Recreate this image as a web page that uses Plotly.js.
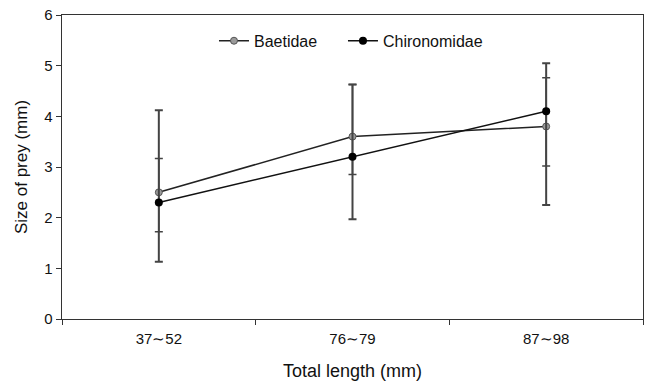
<!DOCTYPE html>
<html>
<head>
<meta charset="utf-8">
<script src="https://cdn.plot.ly/plotly-3.0.1.min.js"></script>
<style>html,body{margin:0;padding:0;background:#fff;}#chart{width:651px;height:385px;}</style>
</head>
<body>
<div id="chart"></div>
<script>
const categories = ["37∼52", "76∼79", "87∼98"];
const baetidae = [2.5, 3.6, 3.8];
const baetidaeErrPlus = [0.67, 1.03, 0.96];
const baetidaeErrMinus = [0.78, 0.75, 0.78];
const chironomidae = [2.3, 3.2, 4.1];
const chironomidaeErrPlus = [1.82, 1.43, 0.95];
const chironomidaeErrMinus = [1.17, 1.23, 1.85];

const traces = [
  {
    x: categories, y: baetidae, name: "Baetidae", type: "scatter", mode: "lines+markers",
    legend: "legend",
    line: {color: "#222", width: 1.5},
    marker: {color: "#9a9a9a", size: 7, line: {color: "#555", width: 1}},
    error_y: {type: "data", symmetric: false, array: baetidaeErrPlus, arrayminus: baetidaeErrMinus,
      color: "#444", thickness: 1.5, width: 4}
  },
  {
    x: categories, y: chironomidae, name: "Chironomidae", type: "scatter", mode: "lines+markers",
    legend: "legend2",
    line: {color: "#111", width: 1.5},
    marker: {color: "#000", size: 8},
    error_y: {type: "data", symmetric: false, array: chironomidaeErrPlus, arrayminus: chironomidaeErrMinus,
      color: "#444", thickness: 2, width: 4}
  }
];

const legendBase = {orientation: "h", xanchor: "left", y: 0.915, yanchor: "middle",
  font: {size: 16, color: "#111"}, bgcolor: "rgba(0,0,0,0)", borderwidth: 0};

const layout = {
  width: 651, height: 385,
  margin: {l: 62, r: 8, t: 15, b: 66},
  paper_bgcolor: "#fff", plot_bgcolor: "#fff",
  font: {family: "Liberation Sans, Arial, sans-serif", size: 15, color: "#111"},
  showlegend: true,
  legend: Object.assign({}, legendBase, {x: 0.2616}),
  legend2: Object.assign({}, legendBase, {x: 0.4836}),
  xaxis: {
    type: "category", range: [-0.5, 2.5],
    showline: true, linecolor: "#333", linewidth: 1.3, mirror: true,
    ticks: "outside", tickson: "boundaries", ticklen: 5, tickcolor: "#333",
    showgrid: false, zeroline: false,
    tickfont: {size: 15}, ticklabelstandoff: 6,
    title: {text: "Total length (mm)", font: {size: 18}, standoff: 18}
  },
  yaxis: {
    range: [0, 6], dtick: 1,
    showline: true, linecolor: "#333", linewidth: 1.3, mirror: true,
    ticks: "outside", ticklen: 5, tickcolor: "#333",
    showgrid: false, zeroline: false,
    tickfont: {size: 15},
    title: {text: "Size of prey (mm)", font: {size: 17}, standoff: 12}
  }
};

Plotly.newPlot("chart", traces, layout, {displayModeBar: false, staticPlot: true});
</script>
</body>
</html>
